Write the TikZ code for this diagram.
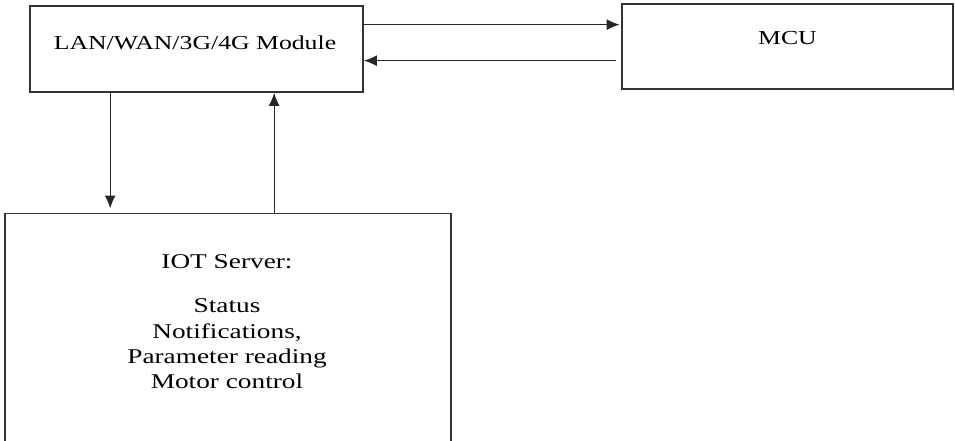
\documentclass[tikz,border=0pt]{standalone}
\usepackage{fontspec}
\setmainfont{Liberation Serif}[FakeStretch=1.3]
\usetikzlibrary{arrows.meta}
\tikzset{
  block/.style={draw=black!80, line width=1.7pt, inner sep=0pt},
  flow/.style={-{Latex[length=13pt,width=11pt]}, line width=1.3pt, draw=black!85},
  boxtext/.style={font=\fontsize{19.8}{24}\selectfont},
  servertext/.style={font=\fontsize{21}{25.3}\selectfont, align=center},
}
\begin{document}
\begin{tikzpicture}[x=1pt,y=-1pt]
  \useasboundingbox (0,0) rectangle (955,441);
  \clip (0,0) rectangle (955,441);
  % the three blocks
  \node[block, minimum width=333pt, minimum height=86pt] (module) at (196.5,49) {};
  \node[boxtext] (moduletext) at (195,43) {LAN/WAN/3G/4G Module};
  \node[block, minimum width=331pt, minimum height=85pt] (mcu) at (787.5,46.5) {};
  \node[boxtext] (mcutext) at (787.5,38) {MCU};
  \node[block, minimum width=446pt, minimum height=280pt, anchor=north] (iot) at (228,212.5) {};
  \node[servertext] (iottitle) at (227,262) {IOT Server:};
  \node[servertext] (iotlist) at (227,344) {Status\\Notifications,\\Parameter reading\\Motor control};
  % links
  \coordinate (sendtap) at ([yshift=-19.5pt]module.north east);
  \coordinate (backtap) at ([yshift=-55.5pt]module.north east);
  \coordinate (downtap) at ([xshift=81pt]module.south west);
  \coordinate (uptap) at ([xshift=245pt]module.south west);
  \draw[flow, shorten >=1.5pt] (sendtap) -- (sendtap -| mcu.west);
  \draw[flow, shorten <=5pt] (backtap -| mcu.west) -- (backtap);
  \draw[flow, shorten >=4pt] (downtap) -- (downtap |- iot.north);
  \draw[flow] (uptap |- iot.north) -- (uptap);
\end{tikzpicture}
\end{document}
